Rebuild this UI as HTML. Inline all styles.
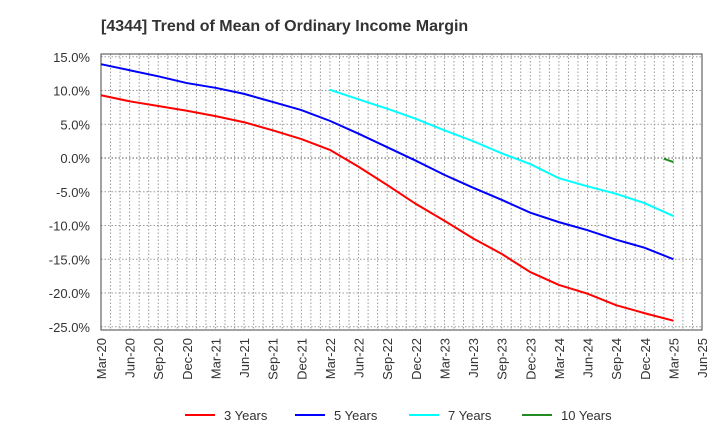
<!DOCTYPE html>
<html><head><meta charset="utf-8"><style>
body{margin:0;background:#fff;font-family:"Liberation Sans",Arial,sans-serif}
</style></head><body>
<svg id="chart" width="720" height="440" xmlns="http://www.w3.org/2000/svg">
<text x="101" y="31" font-size="16" font-weight="bold" fill="#333">[4344]  Trend of Mean of Ordinary Income Margin</text>
<g id="grid"></g><g id="axes"></g><g id="series"></g><g id="legend"></g>
</svg>
<script>
const xLabels=["Mar-20","Jun-20","Sep-20","Dec-20","Mar-21","Jun-21","Sep-21","Dec-21","Mar-22","Jun-22","Sep-22","Dec-22","Mar-23","Jun-23","Sep-23","Dec-23","Mar-24","Jun-24","Sep-24","Dec-24","Mar-25","Jun-25"];
const yTicks=[15,10,5,0,-5,-10,-15,-20,-25];
const s3=[9.3,8.4,7.7,7.0,6.2,5.3,4.1,2.8,1.2,-1.3,-4.0,-6.8,-9.3,-11.9,-14.2,-16.9,-18.8,-20.1,-21.8,-23.0,-24.1];
const s5=[13.9,13.0,12.1,11.1,10.4,9.5,8.3,7.1,5.5,3.6,1.6,-0.4,-2.5,-4.4,-6.2,-8.1,-9.5,-10.7,-12.1,-13.3,-15.0];
const s7=[10.1,8.7,7.3,5.8,4.1,2.5,0.7,-0.9,-3.0,-4.2,-5.3,-6.7,-8.6];
const s10=[-0.1,-0.6];
const seriesNames=["3 Years","5 Years","7 Years","10 Years"];
const L=101,R=702,T=54,B=330;
const xm=m=>L+m*(R-L)/63;
const y=v=>158-v*6.75;
const NS="http://www.w3.org/2000/svg";
function mk(p,t,a){const e=document.createElementNS(NS,t);for(const k in a)e.setAttribute(k,a[k]);p.appendChild(e);return e;}
const grid=document.getElementById('grid'),axes=document.getElementById('axes'),ser=document.getElementById('series'),leg=document.getElementById('legend');
for(let m=1;m<63;m++){const x=xm(m);const g=mk(grid,'line',{x1:x,x2:x,y1:T,y2:B,stroke:'#999','stroke-dasharray':'1.5,2','stroke-width':1});

}
yTicks.forEach(v=>{const yy=y(v);const g=mk(grid,'line',{x1:L,x2:R,y1:yy,y2:yy,stroke:v===0?'#555':'#999','stroke-dasharray':'1.5,2','stroke-width':1});


const t=mk(axes,'text',{x:L-11,y:yy+5,'text-anchor':'end','font-size':13,fill:'#333'});t.textContent=v.toFixed(1)+'%';

});
const fr=mk(axes,'rect',{x:L,y:T,width:R-L,height:B-T,fill:'none',stroke:'#444','stroke-width':1});


xLabels.forEach((l,i)=>{const x=xm(i*3);const t=mk(axes,'text',{x:x+5,y:B+8,'text-anchor':'end','font-size':13,fill:'#333',transform:`rotate(-90 ${x+5} ${B+8})`});t.textContent=l;

});
function line(arr,startMonth,step,color,name){const pts=arr.map((v,i)=>xm(startMonth+i*step)+','+y(v)).join(' ');const p=mk(ser,'polyline',{points:pts,fill:'none',stroke:color,'stroke-width':2});

}
line(s3,0,3,'#f00','series-3-years');line(s5,0,3,'#00f','series-5-years');line(s7,24,3,'#0ff','series-7-years');line(s10,59,1,'#228b22','series-10-years');
const cols=['#f00','#00f','#0ff','#228b22'],lx=[185,295,409,522];
seriesNames.forEach((n,i)=>{const g=mk(leg,'g',{});


mk(g,'line',{x1:lx[i],x2:lx[i]+30,y1:415,y2:415,stroke:cols[i],'stroke-width':2});
const t=mk(g,'text',{x:lx[i]+39,y:420,'font-size':13,fill:'#333'});t.textContent=n;});
</script>
</body></html>
